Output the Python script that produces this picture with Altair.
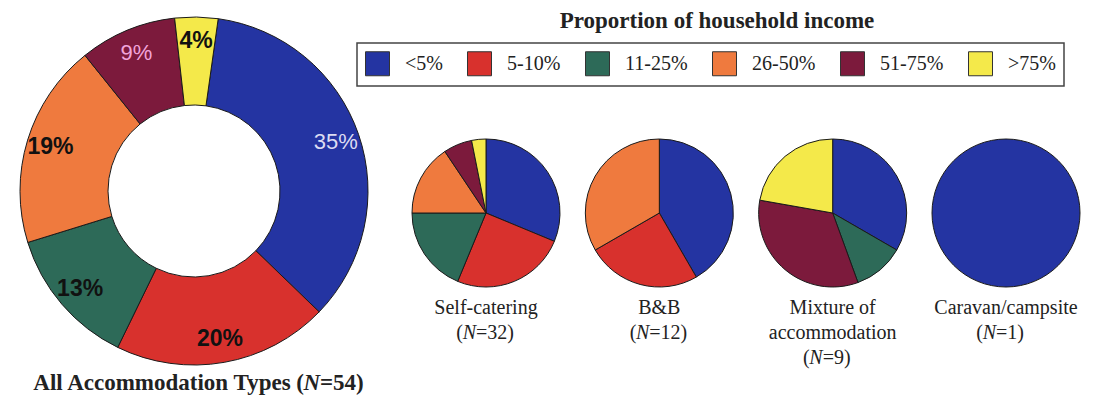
import math
import altair as alt
import pandas as pd

# ---------------- data ----------------
categories = ["<5%", "5-10%", "11-25%", "26-50%", "51-75%", ">75%"]
colors = ["#2434a2", "#d8312d", "#2d6a58", "#ef7a3e", "#7c1a3c", "#f4e94a"]

all_pct = [35, 20, 13, 19, 9, 4]
all_label_bold = [False, True, True, True, False, True]
all_label_color = ["#dcdcf2", "#111111", "#111111", "#111111", "#f2a4da", "#111111"]

pie_keys = ["sc", "bb", "mix", "cc"]
pie_names = ["Self-catering", "B&B", "Mixture of\naccommodation", "Caravan/campsite"]
pie_eq = ["\u2002=32)", "=12)", "=9)", "\u2002=1)"]
self_catering = [10, 8, 6, 5, 2, 1]
b_and_b = [5, 3, 0, 4, 0, 0]
mixture = [3, 0, 1, 0, 3, 2]
caravan = [1, 0, 0, 0, 0, 0]

legend_title = "Proportion of household income"
main_title_pre = "All Accommodation Types ("
main_title_n = "N"
main_title_post = "=54)"

# ---------------- tables ----------------
big_df = pd.DataFrame({
    "panel": ["all"] * len(categories),
    "cat": categories,
    "idx": list(range(len(categories))),
    "value": all_pct,
    "bold": all_label_bold,
    "lcol": all_label_color,
    "label": [f"{p}%" for p in all_pct],
})

rows = []
for key, vals in zip(pie_keys, [self_catering, b_and_b, mixture, caravan]):
    for i, (c, v) in enumerate(zip(categories, vals)):
        rows.append({"panel": key, "cat": c, "idx": i, "value": v})
small_df = pd.DataFrame(rows)

labels_df = pd.DataFrame({"panel": pie_keys, "name": pie_names, "eq": pie_eq})


def polar(df):
    return (
        alt.Chart(df)
        .transform_filter("datum.value > 0")
        .transform_joinaggregate(total="sum(value)", groupby=["panel"])
        .transform_window(cum="sum(value)", sort=[alt.SortField("idx")],
                          groupby=["panel"], frame=[None, 0])
        .transform_calculate(
            t1="(datum.cum - datum.value) / datum.total",
            t2="datum.cum / datum.total",
            tm="(datum.cum - datum.value / 2) / datum.total",
        )
    )


color_enc = alt.Color(
    "cat:N",
    scale=alt.Scale(domain=categories, range=colors),
    legend=alt.Legend(
        orient="none", legendX=349, legendY=35, direction="horizontal",
        title=None, symbolType="square", symbolSize=576,
        symbolStrokeColor="#333333", symbolStrokeWidth=1, symbolOpacity=1,
        labelFont="Liberation Serif", labelFontSize=20, labelColor="#222222",
        labelOffset=15, columnPadding=22, padding=8,
        strokeColor="#444444", fillColor="white",
    ),
)

CX, CY = 186, 183
start = math.radians(8)
big_theta = alt.Scale(domain=[0, 1], range=[start, start + 2 * math.pi])
small_theta = alt.Scale(domain=[0, 1], range=[0, 2 * math.pi])
xscale = alt.Scale(type="point", domain=pie_keys, range=[478, 998], padding=0)
x_enc = alt.X("panel:N", scale=xscale, axis=None)

big_arc = polar(big_df).mark_arc(
    innerRadius=86, outerRadius=174, stroke="#1a1a1a", strokeWidth=1
).encode(
    theta=alt.Theta("t1:Q", scale=big_theta, stack=False),
    theta2="t2:Q",
    color=color_enc,
    order=alt.Order("idx:Q"),
    x=alt.value(CX), y=alt.value(CY),
)

big_lab_bold = polar(big_df).transform_filter("datum.bold").mark_text(
    radius=150, font="Liberation Sans", fontSize=23, fontWeight="bold",
    color="#111111", align="center", baseline="middle",
).encode(
    theta=alt.Theta("tm:Q", scale=big_theta, stack=False),
    text="label:N",
    x=alt.value(CX), y=alt.value(CY),
)

big_lab_norm = polar(big_df).transform_filter("!datum.bold").mark_text(
    radius=150, font="Liberation Sans", fontSize=22, fontWeight="normal",
    align="center", baseline="middle",
).encode(
    theta=alt.Theta("tm:Q", scale=big_theta, stack=False),
    text="label:N",
    fill=alt.Fill("lcol:N", scale=None),
    x=alt.value(CX), y=alt.value(CY),
)

small_arc = polar(small_df).mark_arc(
    outerRadius=74, stroke="#1a1a1a", strokeWidth=1
).encode(
    theta=alt.Theta("t1:Q", scale=small_theta, stack=False),
    theta2="t2:Q",
    color=color_enc,
    order=alt.Order("idx:Q"),
    x=x_enc, y=alt.value(205),
)

serif = dict(font="Liberation Serif", fontSize=20, color="#222222", baseline="alphabetic")

name_text = alt.Chart(labels_df).mark_text(
    align="center", lineBreak="\n", lineHeight=25, **serif
).encode(x=x_enc, y=alt.value(306), text="name:N")

nline_base = alt.Chart(labels_df).transform_calculate(
    nlines="length(split(datum.name, '\\n'))"
)
y_n = alt.Y("nlines:O", scale=alt.Scale(type="point", domain=[1, 2], range=[331, 356], padding=0), axis=None)

paren = nline_base.mark_text(align="right", dx=-23, **serif).encode(
    x=x_enc, y=y_n, text=alt.value("("))
n_ital = nline_base.mark_text(align="right", dx=-10, fontStyle="italic", **serif).encode(
    x=x_enc, y=y_n, text=alt.value("N"))
eq_text = nline_base.mark_text(align="left", dx=-10, **serif).encode(
    x=x_enc, y=y_n, text="eq:N")

bold_serif = dict(font="Liberation Serif", fontSize=23, fontWeight="bold",
                  color="#222222", baseline="alphabetic")

t_pre = alt.Chart(pd.DataFrame({"t": [main_title_pre]})).mark_text(
    align="right", dx=110, **bold_serif).encode(x=alt.value(CX), y=alt.value(382), text="t:N")
t_n = alt.Chart(pd.DataFrame({"t": [main_title_n]})).mark_text(
    align="right", dx=126, fontStyle="italic", **bold_serif).encode(x=alt.value(CX), y=alt.value(382), text="t:N")
t_post = alt.Chart(pd.DataFrame({"t": [main_title_post]})).mark_text(
    align="left", dx=126, **bold_serif).encode(x=alt.value(CX), y=alt.value(382), text="t:N")

leg_title = alt.Chart(pd.DataFrame({"t": [legend_title]})).mark_text(
    align="center", **bold_serif).encode(x=alt.value(709), y=alt.value(20), text="t:N")

chart = alt.layer(
    big_arc, big_lab_bold, big_lab_norm, small_arc,
    name_text, paren, n_ital, eq_text,
    t_pre, t_n, t_post, leg_title,
).resolve_scale(theta="independent").properties(
    width=1080, height=389, padding=0,
    autosize=alt.AutoSizeParams(type="none"),
    background="white",
).configure_view(strokeWidth=0).configure_legend(strokeWidth=1.5)

chart.save("out.html", embed_options={"renderer": "svg", "actions": False})
